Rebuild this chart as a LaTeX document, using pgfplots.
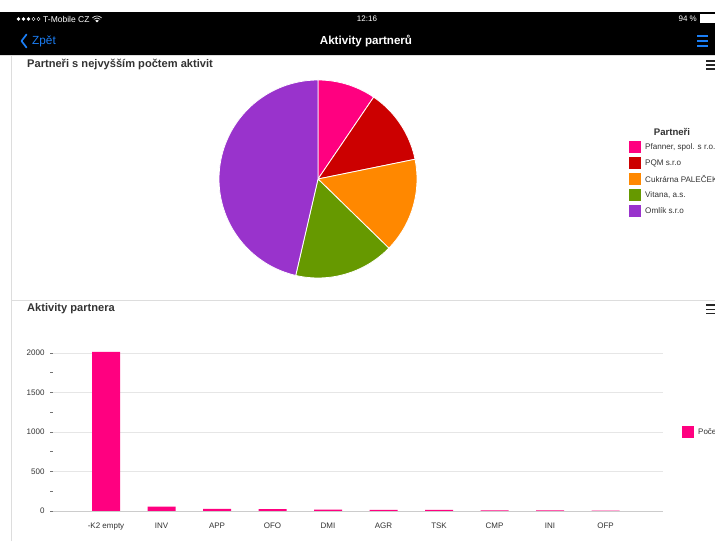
\documentclass[border=0pt]{standalone}
\usepackage{fontspec}
\setmainfont{Liberation Sans}
\usepackage{pgfplots}
\pgfplotsset{compat=1.18}
\definecolor{cpink}{HTML}{FF0080}
\definecolor{cred}{HTML}{CC0000}
\definecolor{corange}{HTML}{FF8800}
\definecolor{cgreen}{HTML}{669900}
\definecolor{cpurple}{HTML}{9933CC}
\definecolor{iosblue}{HTML}{1B7EF5}
\definecolor{ttl}{HTML}{333333}
\definecolor{gridc}{HTML}{E6E6E6}
\definecolor{framec}{HTML}{DDDDDD}
\newcommand{\fs}[1]{\fontsize{#1}{#1}\selectfont}
\begin{document}
\begin{tikzpicture}[x=1pt,y=1pt]
\path[use as bounding box] (0,0) rectangle (715,541);
\clip (0,0) rectangle (715,541);
\fill[white] (0,0) rectangle (715,541);
% status + navigation bar
\fill[black] (0,486) rectangle (715,529);
\foreach \i in {0,1,2} {\fill[white] (18.5+\i*5,522) circle (1.9);}
\foreach \i in {3,4} {\draw[white,line width=0.4pt] (18.5+\i*5,522) circle (1.7);}
\node[anchor=west,text=white,inner sep=0] at (43,522) {\fs{8.5}T-Mobile CZ};
\begin{scope}[shift={(97,518.5)}]
\fill[white] (0,0) -- (-1.8,1.8) arc (135:45:2.55) -- cycle;
\draw[white,line width=0.6pt] (-3.2,3.2) arc (135:45:4.5);
\draw[white,line width=0.6pt] (-4.6,4.6) arc (135:45:6.5);
\end{scope}
\node[text=white,inner sep=0] at (367,522) {\fs{8}12:16};
\node[anchor=east,text=white,inner sep=0] at (697,522) {\fs{8}94 \%};
\fill[white] (700,517.5) rectangle (716,526.5);
\draw[iosblue,line width=1.7pt,line cap=round,line join=round] (26.5,506.5) -- (21.5,500) -- (26.5,493.5);
\node[anchor=west,text=iosblue,inner sep=0] at (32,500) {\fs{11.8}Zpět};
\node[text=white,inner sep=0] at (366,500) {\fs{11.6}\bfseries Aktivity partnerů};
\draw[iosblue,line width=1.4pt] (697,505) -- (708,505) (697,500) -- (708,500) (697,495) -- (708,495);
% frames
\draw[framec,line width=0.8pt] (0,485.5) -- (715,485.5);
\draw[framec,line width=0.8pt] (11,0) -- (11,485.5);
\draw[framec,line width=0.8pt] (11,241) -- (715,241);
% panel titles
\node[anchor=west,text=ttl,inner sep=0] at (27,476) {\fs{11.1}\bfseries Partneři s nejvyšším počtem aktivit};
\draw[black!85,line width=1.3pt] (706,480) -- (716,480) (706,476) -- (716,476) (706,472) -- (716,472);
\node[anchor=west,text=ttl,inner sep=0] at (27,232) {\fs{11.1}\bfseries Aktivity partnera};
\draw[black!85,line width=1.3pt] (706,236) -- (716,236) (706,231.7) -- (716,231.7) (706,227.4) -- (716,227.4);

% ---------------- pie chart ----------------
% shares (%): Pfanner 9.5, PQM 12.3, Cukrarna 15.5, Vitana 16.3, Omlik 46.4
% slice angles (degrees, clockwise from top): 34.2, 44.3, 55.8, 58.7, 167.0
\begin{axis}[at={(318pt,362pt)},anchor=center,width=198pt,height=198pt,scale only axis,
  xmin=-1,xmax=1,ymin=-1,ymax=1,hide axis,clip=false]
\addplot[fill=cpink,draw=white,line width=0.8pt,domain=55.8:90,samples=30] ({cos(x)},{sin(x)}) -- (axis cs:0,0) -- cycle;
\addplot[fill=cred,draw=white,line width=0.8pt,domain=11.5:55.8,samples=30] ({cos(x)},{sin(x)}) -- (axis cs:0,0) -- cycle;
\addplot[fill=corange,draw=white,line width=0.8pt,domain=-44.3:11.5,samples=30] ({cos(x)},{sin(x)}) -- (axis cs:0,0) -- cycle;
\addplot[fill=cgreen,draw=white,line width=0.8pt,domain=-103.0:-44.3,samples=30] ({cos(x)},{sin(x)}) -- (axis cs:0,0) -- cycle;
\addplot[fill=cpurple,draw=white,line width=0.8pt,domain=-270:-103.0,samples=80] ({cos(x)},{sin(x)}) -- (axis cs:0,0) -- cycle;
\end{axis}
% pie legend
\node[text=ttl,inner sep=0] at (672,409) {\fs{9.6}\bfseries Partneři};
\foreach \yy/\cc/\tt in {394/cpink/{Pfanner, spol. s r.o.},378/cred/{PQM s.r.o},362/corange/{Cukrárna PALEČEK},346/cgreen/{Vitana, a.s.},330/cpurple/{Omlík s.r.o}}{
  \fill[\cc] (629,\yy-6) rectangle (641,\yy+6);
  \node[anchor=west,text=ttl,inner sep=0] at (645,\yy) {\fs{8.1}\tt};
}

% ---------------- bar chart ----------------
\begin{axis}[at={(53pt,30pt)},anchor=south west,width=610pt,height=158pt,scale only axis,
  ybar,bar width=28pt,
  xmin=-0.955,xmax=10.035,ymin=0,ymax=2000,enlargelimits=false,clip=false,
  axis line style={draw=none},
  xtick=data,
  xticklabels={-K2 empty,INV,APP,OFO,DMI,AGR,TSK,CMP,INI,OFP},
  x tick style={draw=none},
  ytick={0,500,1000,1500,2000},
  minor ytick={250,750,1250,1750},
  ytick pos=left, tick align=outside,
  major tick length=3pt, minor tick length=3pt,
  y tick style={draw=black!55,line width=0.5pt},
  ymajorgrids, grid style={gridc,line width=0.8pt},
  tick label style={font=\fs{8},text=ttl},
  xticklabel style={yshift=-5pt},
  yticklabel style={xshift=-2pt},
  /pgf/number format/assume math mode=true,
  /pgf/number format/1000 sep={},
  scaled y ticks=false,
]
\addplot[fill=cpink,draw=none] coordinates {(0,2015) (1,55) (2,26) (3,25) (4,18) (5,14) (6,14) (7,9) (8,9) (9,5)};
\draw[black!20,line width=0.8pt] (axis cs:-0.955,0) -- (axis cs:10.035,0);
\end{axis}
% bar legend
\fill[cpink] (682,103) rectangle (694,115);
\node[anchor=west,text=ttl,inner sep=0] at (698,109) {\fs{8}Počet aktivit};
\end{tikzpicture}
\end{document}
